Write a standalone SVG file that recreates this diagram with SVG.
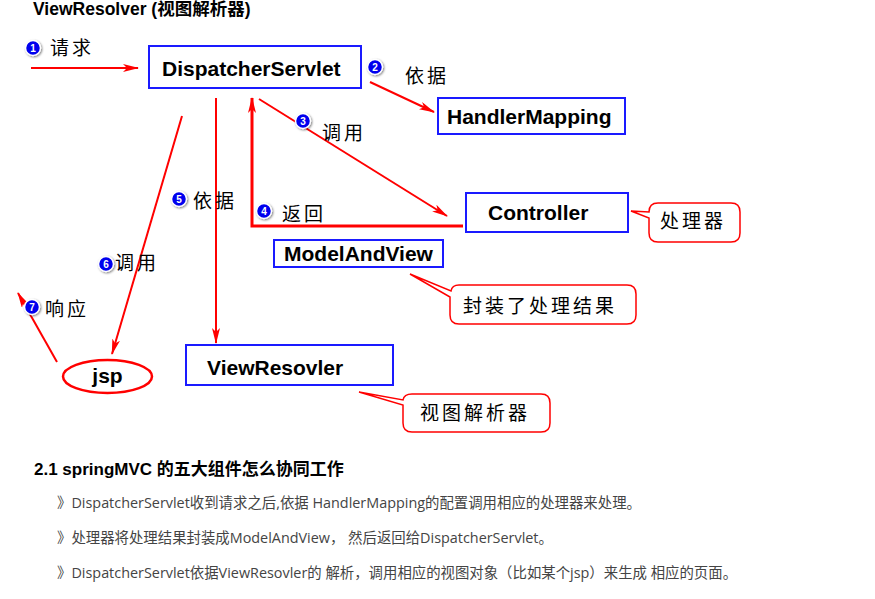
<svg xmlns="http://www.w3.org/2000/svg" width="875" height="599" viewBox="0 0 875 599">
<style>
.node{fill:#fff;stroke:#1a1aff;stroke-width:2}
.lbl{font-family:"Liberation Sans",Arial,sans-serif;font-weight:bold;font-size:21px;fill:#000}
.cn{font-family:"Noto Sans CJK SC",sans-serif;font-size:19px;fill:#000;letter-spacing:3px}
.num{fill:#0000ee;stroke:#fff;stroke-width:1.5;filter:url(#sh)}
.numt{font-family:"Liberation Sans",Arial,sans-serif;font-weight:bold;font-size:10px;fill:#fff;text-anchor:middle}
.edge{stroke:#ff0000;stroke-width:2;fill:none}
.call{fill:#fff;stroke:#ff0000;stroke-width:1.5}
.body{font-family:"Open Sans","Noto Sans CJK SC",sans-serif;font-size:14.4px;fill:#444}
</style>
<defs>
<marker id="ah" viewBox="0 0 16 8" refX="15" refY="4" markerWidth="16" markerHeight="8" markerUnits="userSpaceOnUse" orient="auto">
<path d="M0,0 L16,4 L0,8 L4,4 Z" fill="#ff0000"/>
</marker>
<filter id="sh" x="-50%" y="-50%" width="200%" height="200%">
<feDropShadow dx="1" dy="1" stdDeviation="1" flood-color="#000" flood-opacity="0.5"/>
</filter>
</defs>

<text x="33" y="15" font-family="Liberation Sans,'Noto Sans CJK SC',sans-serif" font-weight="bold" font-size="17.5" fill="#000">ViewResolver (视图解析器)</text>

<g id="connectors">
<line class="edge" x1="31" y1="68" x2="138" y2="68" marker-end="url(#ah)"/>
<line class="edge" x1="370" y1="82" x2="434" y2="112" marker-end="url(#ah)"/>
<line class="edge" x1="259" y1="99" x2="447" y2="216" marker-end="url(#ah)"/>
<polyline class="edge" style="stroke-width:3" points="463,226 252,226 252,98" marker-end="url(#ah)"/>
<line class="edge" x1="216" y1="98" x2="216" y2="343" marker-end="url(#ah)"/>
<line class="edge" x1="182" y1="116" x2="112" y2="354" marker-end="url(#ah)"/>
<line class="edge" x1="57" y1="362" x2="18" y2="293" marker-end="url(#ah)"/>
</g>

<g id="labels">
<circle class="num" cx="33" cy="48" r="7.5"/><text class="numt" x="33" y="51.5">1</text>
<text class="cn" x="50" y="55">请求</text>
<circle class="num" cx="375" cy="67" r="7.5"/><text class="numt" x="375" y="70.5">2</text>
<text class="cn" x="405" y="83">依据</text>
<circle class="num" cx="303" cy="121" r="7.5"/><text class="numt" x="303" y="124.5">3</text>
<text class="cn" x="322" y="140">调用</text>
<circle class="num" cx="264" cy="211" r="7.5"/><text class="numt" x="264" y="214.5">4</text>
<text class="cn" x="282" y="221">返回</text>
<circle class="num" cx="179" cy="199" r="7.5"/><text class="numt" x="179" y="202.5">5</text>
<text class="cn" x="193" y="208">依据</text>
<circle class="num" cx="106" cy="264" r="7.5"/><text class="numt" x="106" y="267.5">6</text>
<text class="cn" x="115" y="270">调用</text>
<circle class="num" cx="32" cy="307" r="7.5"/><text class="numt" x="32" y="310.5">7</text>
<text class="cn" x="45" y="316">响应</text>
</g>

<g id="dispatcher">
<rect class="node" x="149" y="46" width="212" height="42"/>
<text class="lbl" x="162" y="76">DispatcherServlet</text>
</g>
<g id="handlerMapping">
<rect class="node" x="438" y="98" width="187" height="36"/>
<text class="lbl" x="447" y="124">HandlerMapping</text>
</g>
<g id="controller">
<rect class="node" x="466" y="193" width="162" height="39"/>
<text class="lbl" x="488" y="220">Controller</text>
</g>
<g id="modelAndView">
<rect class="node" x="274" y="240" width="169" height="27"/>
<text class="lbl" x="284" y="261">ModelAndView</text>
</g>
<g id="viewResolver">
<rect class="node" x="186" y="345" width="207" height="40"/>
<text class="lbl" x="207" y="375">ViewResovler</text>
</g>
<g id="jsp">
<ellipse cx="107.5" cy="376.5" rx="44.5" ry="16.5" fill="#fff" stroke="#ff0000" stroke-width="2.5"/>
<text class="lbl" x="107.5" y="383" text-anchor="middle">jsp</text>
</g>

<g id="callout-handler">
<path class="call" d="M658,203 H731 Q740,203 740,212 V233 Q740,242 731,242 H658 Q649,242 649,233 V218 L631,211 L649,212 Q649,203 658,203 Z"/>
<text class="cn" x="660" y="228">处理器</text>
</g>
<g id="callout-result">
<path class="call" d="M459,285 H627 Q636,285 636,294 V315 Q636,324 627,324 H459 Q450,324 450,315 V297 L410,274 L451,291 Q452,285 459,285 Z"/>
<text class="cn" x="463" y="313">封装了处理结果</text>
</g>
<g id="callout-view">
<path class="call" d="M412,394 H541 Q550,394 550,403 V423 Q550,432 541,432 H412 Q403,432 403,423 V405 L359,392 L403,400 Q404,394 412,394 Z"/>
<text class="cn" x="420" y="420">视图解析器</text>
</g>

<g id="text-body">
<text x="34" y="475" font-family="Liberation Sans,'Noto Sans CJK SC',sans-serif" font-weight="bold" font-size="17" fill="#000">2.1 springMVC 的五大组件怎么协同工作</text>
<text class="body" x="57" y="508">》DispatcherServlet收到请求之后,依据 HandlerMapping的配置调用相应的处理器来处理。</text>
<text class="body" x="57" y="543">》处理器将处理结果封装成ModelAndView， 然后返回给DispatcherServlet。</text>
<text class="body" x="57" y="578">》DispatcherServlet依据ViewResovler的 解析，调用相应的视图对象（比如某个jsp）来生成 相应的页面。</text>
</g>
</svg>
